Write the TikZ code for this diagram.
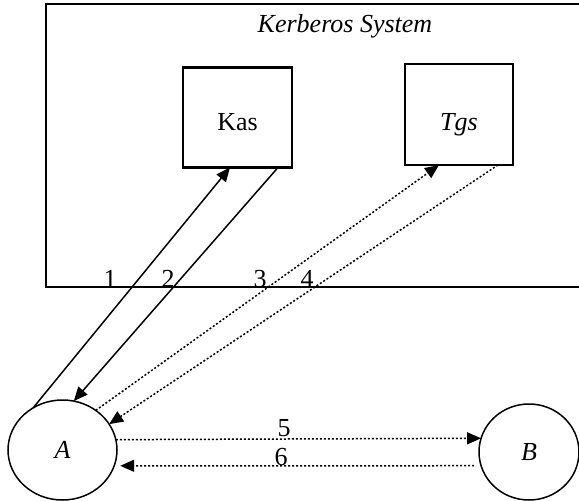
\documentclass[tikz,border=0pt]{standalone}
\usepackage{fontspec}
\setmainfont{Liberation Serif}
\usetikzlibrary{arrows.meta,calc,shapes.geometric}
\begin{document}
\begin{tikzpicture}[x=1pt,y=-1pt,
  font=\fontsize{26}{30}\selectfont,
  frame/.style={draw,line width=2.2pt},
  srv/.style={draw,line width=2.4pt,minimum width=109pt,minimum height=100pt,inner sep=0pt,outer sep=0pt,text depth=0pt},
  host/.style={draw,ellipse,line width=1.5pt,inner sep=0pt,outer sep=0pt,font=\fontsize{26}{30}\selectfont\itshape},
  tip/.style={-{Triangle[length=14pt,width=12pt]}},
  solidarrow/.style={line width=1.5pt,tip},
  dotarrow/.style={line width=1.5pt,dash pattern=on 2pt off 2pt,tip},
  num/.style={anchor=base,inner sep=0pt}]
\clip (0,0) rectangle (579,501);
\fill[white] (0,0) rectangle (579,501);
\draw[frame] (46,4) rectangle (600,287);
\node[anchor=base,inner sep=0pt,font=\fontsize{26}{30}\selectfont\itshape] (title) at (345,32) {Kerberos System};
\node[srv,text height=25pt] (kas) at (237.5,117.5) {Kas};
\node[srv,text height=31pt,minimum width=108pt,minimum height=101pt,font=\fontsize{26}{30}\selectfont\itshape] (tgs) at (459,114.5) {Tgs};
\node[host,minimum width=109pt,minimum height=100pt] (A) at (62.5,450) {A};
\node[host,minimum width=100pt,minimum height=96pt] (B) at (529,452) {B};
\coordinate (kasin) at ($(kas.south)+(-7.5,0)$);
\coordinate (kasout) at ($(kas.south)+(40.5,0)$);
\coordinate (tgsin) at ($(tgs.south)+(-20,0)$);
\coordinate (tgsout) at ($(tgs.south)+(39,0)$);
\draw[solidarrow] (A.125) -- (kasin);
\draw[solidarrow] (kasout) -- (A.77);
\draw[dotarrow] (A.50) -- (tgsin);
\draw[dotarrow] (tgsout) -- (A.29);
\draw[dotarrow] (A.11.7) -- (B.164.9);
\draw[dotarrow,shorten <=7pt,shorten >=6pt] (B.196.4) -- (A.-17.2);
\node[num] (n1) at (110,287) {1};
\node[num] (n2) at (168,287) {2};
\node[num] (n3) at (260,287) {3};
\node[num] (n4) at (307,287) {4};
\node[num] (n5) at (284,436) {5};
\node[num] (n6) at (281,465) {6};
\end{tikzpicture}
\end{document}
